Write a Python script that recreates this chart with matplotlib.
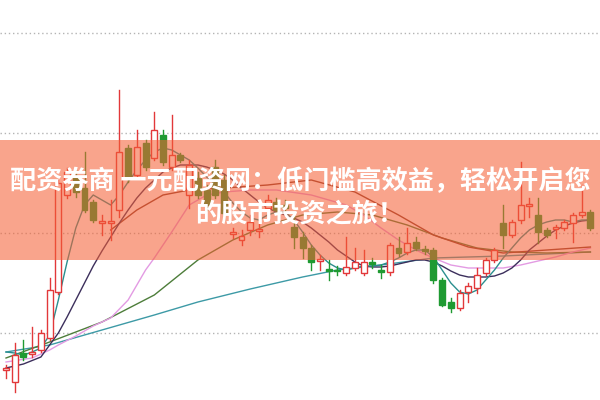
import matplotlib
matplotlib.use('Agg')
import matplotlib.pyplot as plt
from matplotlib.patches import Rectangle

# ---- candle data (price units) ----
opens  = [6.3, 5.1, 8.0, 7.9, 8.3, 9.5, 14.1, 23.8, 25.5, 24.5, 23.1, 21.0, 21.0, 22.3, 28.5, 25.8, 29.0, 27.5, 29.8, 26.6,
          27.8, 23.8, 25.5, 24.3, 26.6, 25.3, 19.9, 19.3, 20.3, 20.2, 22.5, 23.1, 22.8, 20.6, 19.6, 18.5, 17.2, 16.4, 16.3, 16.0,
          16.5, 16.0, 17.1, 16.3, 16.1, 18.5, 18.1, 19.1, 18.4, 18.3, 15.3, 13.1, 12.5, 14.1, 14.5, 16.0, 17.3, 21.0, 19.8, 21.3,
          22.7, 21.8, 20.3, 20.4, 20.5, 21.0, 21.8, 22.1]
closes = [6.5, 7.8, 7.6, 8.1, 10.0, 14.3, 25.0, 26.1, 24.1, 22.3, 21.3, 21.2, 21.2, 28.1, 25.6, 28.6, 26.6, 30.3, 27.1, 27.8,
          27.3, 26.8, 23.8, 22.8, 23.8, 22.0, 20.1, 19.7, 21.1, 20.4, 23.3, 22.3, 22.5, 19.6, 18.5, 17.1, 17.4, 16.2, 16.2, 16.6,
          17.1, 17.1, 16.9, 16.1, 18.8, 18.0, 19.0, 18.5, 18.2, 15.3, 12.8, 12.5, 14.0, 14.7, 15.8, 17.3, 18.3, 19.8, 21.1, 22.8,
          22.9, 20.1, 19.8, 20.6, 21.1, 21.8, 22.1, 20.5]
highs  = [6.8, 9.0, 9.3, 10.6, 10.3, 15.5, 25.3, 26.5, 26.3, 28.1, 23.3, 21.8, 23.3, 34.3, 28.8, 30.3, 29.3, 32.1, 30.3, 31.8,
          28.0, 27.3, 26.1, 24.8, 27.3, 25.8, 20.5, 20.3, 21.8, 21.0, 23.8, 23.5, 23.3, 22.0, 20.1, 18.8, 17.8, 17.3, 16.7, 19.6,
          18.5, 18.3, 17.5, 16.8, 19.0, 19.6, 20.5, 19.6, 18.7, 18.5, 15.5, 13.5, 14.3, 15.0, 16.5, 17.5, 18.5, 22.8, 21.3, 27.1,
          23.5, 23.5, 20.5, 20.8, 21.3, 22.0, 24.8, 22.3]
lows   = [5.5, 4.1, 7.3, 7.6, 8.1, 9.3, 13.9, 23.5, 23.6, 22.1, 21.1, 19.8, 19.3, 21.6, 25.1, 25.6, 26.3, 27.3, 26.8, 26.3,
          27.1, 22.5, 23.5, 22.3, 23.5, 21.3, 19.5, 18.8, 19.8, 19.6, 22.1, 22.0, 22.1, 18.5, 17.5, 16.3, 16.3, 15.3, 15.8, 15.8,
          16.3, 15.8, 16.5, 15.5, 15.8, 17.7, 17.9, 18.3, 17.9, 15.0, 12.7, 12.1, 12.3, 13.1, 14.0, 15.8, 17.1, 18.5, 19.6, 21.0,
          21.6, 19.0, 19.6, 19.5, 20.3, 19.1, 21.6, 20.3]

# ---- moving average lines (index, value) ----
ma5_idx = list(range(68))
ma5_val = [8.1, 8.0, 7.8, 8.1, 8.5, 9.8, 13.3, 17.1, 20.5, 22.8, 23.8, 23.3, 22.8, 23.8, 25.1, 26.3, 27.3, 28.1, 28.5, 28.3,
           27.8, 27.3, 26.5, 25.6, 25.0, 24.1, 23.0, 22.1, 21.5, 21.3, 21.8, 22.1, 22.1, 21.3, 20.1, 18.8, 17.8, 17.0, 16.5, 16.3,
           16.5, 16.7, 16.7, 16.8, 17.1, 17.5, 18.0, 18.3, 18.3, 17.6, 16.3, 15.0, 14.1, 13.9, 14.3, 15.3, 16.3, 17.5, 18.5, 19.5,
           20.3, 20.8, 21.1, 21.3, 21.3, 21.1, 21.3, 21.3]
ma10_idx = [0, 2, 4, 5, 6, 7, 8, 9, 10, 11, 12, 13, 14, 15, 16, 17, 18, 19, 20, 21, 22, 23, 24, 25, 26, 27, 28, 29, 30, 31,
            32, 33, 34, 35, 36, 37, 38, 39, 40, 41, 42, 43, 44, 45, 46, 47, 48, 49, 50, 51, 52, 53, 54, 55, 56, 57, 58, 59,
            60, 61, 62, 63, 64, 65, 66, 67]
ma10_val = [6.5, 6.9, 7.6, 8.8, 10.0, 11.6, 13.3, 15.0, 16.7, 18.2, 19.6, 21.0, 22.3, 23.5, 24.5, 25.3, 26.1, 26.5, 26.8, 26.8,
            26.8, 26.6, 26.3, 25.9, 25.3, 24.5, 23.8, 23.1, 22.5, 22.1, 21.8, 21.5, 21.1, 20.5, 19.8, 19.1, 18.3, 17.7, 17.1,
            16.7, 16.6, 16.6, 16.7, 16.9, 17.1, 17.3, 17.3, 17.1, 16.7, 16.2, 15.8, 15.6, 15.6, 15.6, 15.7, 16.0, 16.5, 17.3,
            18.3, 19.0, 19.7, 20.3, 20.7, 21.0, 21.2, 21.3]
ma20_idx = [0, 3, 5, 6, 8, 10, 12, 14, 16, 17, 19, 21, 23, 25, 28, 31, 35, 39, 41, 43, 45, 47, 49, 51, 53, 55, 57, 59, 61,
            63, 65, 67]
ma20_val = [7.1, 7.5, 8.3, 8.8, 9.7, 10.7, 11.5, 13.3, 16.3, 17.5, 20.1, 22.8, 23.8, 24.1, 24.3, 24.3, 23.8, 22.8, 21.8,
            20.5, 19.3, 18.3, 17.5, 16.8, 16.5, 16.5, 16.5, 16.8, 17.2, 17.6, 18.1, 18.5]
ma30_idx = [0, 5, 11, 17, 22, 26, 30, 34, 38, 42, 46, 50, 54, 58, 62, 67]
ma30_val = [7.5, 9.1, 11.1, 13.8, 17.3, 19.3, 20.8, 21.8, 22.1, 21.8, 20.8, 19.5, 18.5, 18.1, 18.0, 18.1]
ma60_idx = [0, 5, 11, 17, 22, 28, 34, 38, 43, 49, 57, 67]
ma60_val = [8.1, 8.8, 10.3, 11.8, 13.1, 14.4, 15.6, 16.3, 16.8, 17.5, 17.7, 18.1]
ma120_idx = [12, 15, 18, 21, 25, 30, 35, 40, 45, 49, 53, 57, 62, 67]
ma120_val = [20.3, 22.3, 23.8, 24.3, 24.5, 24.8, 25.3, 24.1, 21.8, 19.8, 18.6, 18.0, 18.3, 18.6]

grid_levels = [40, 30, 20, 10]

title_line1 = "配资券商 一元配资网：低门槛高效益，轻松开启您"
title_line2 = "的股市投资之旅！"

UP = '#e2383a'
DOWN = '#1f9a32'

fig = plt.figure(figsize=(6, 4), dpi=100)
ax = fig.add_axes([0, 0, 1, 1])
ax.set_xlim(-0.69, 68.1)
ax.set_ylim(3.3, 43.3)
ax.axis('off')

for g in grid_levels:
    ax.axhline(g, color='#b4b4b4', lw=1.0, ls=(0, (1, 2)), zorder=1)

lines = [
    (ma60_idx, ma60_val, '#3d9aa6'),
    (ma30_idx, ma30_val, '#4d7d3a'),
    (ma20_idx, ma20_val, '#e39be3'),
    (ma120_idx, ma120_val, '#8a3d2d'),
    (ma10_idx, ma10_val, '#3c2f5c'),
    (ma5_idx, ma5_val, '#2b8f8f'),
]
for xs, ys, c in lines:
    ax.plot(xs, ys, color=c, lw=1.0, zorder=2)

w = 0.68
for i, (o, c, h, l) in enumerate(zip(opens, closes, highs, lows)):
    top, bot = max(o, c), min(o, c)
    if c >= o:
        col = UP
        ax.plot([i, i], [top, h], color=col, lw=1.0, zorder=3)
        ax.plot([i, i], [l, bot], color=col, lw=1.0, zorder=3)
        ax.add_patch(Rectangle((i - w / 2, bot), w, max(top - bot, 0.15), facecolor='white',
                               edgecolor=col, lw=1.0, zorder=3))
    else:
        col = DOWN
        ax.plot([i, i], [l, h], color=col, lw=1.0, zorder=3)
        ax.add_patch(Rectangle((i - w / 2, bot), w, max(top - bot, 0.15), facecolor=col,
                               edgecolor=col, lw=1.0, zorder=3))

# banner
fig.patches.append(Rectangle((0, 1 - 260 / 400), 1, 120 / 400, transform=fig.transFigure,
                             facecolor=(245 / 255, 96 / 255, 53 / 255), alpha=0.57, edgecolor='none', zorder=5))

fig.text(0.5, 1 - 182 / 400, title_line1, ha='center', va='center', color='white', fontsize=18.8,
         fontweight='bold', family=['Noto Sans CJK SC', 'DejaVu Sans'], zorder=6)
fig.text(0.5, 1 - 215 / 400, title_line2, ha='center', va='center', color='white', fontsize=18.8,
         fontweight='bold', family=['Noto Sans CJK SC', 'DejaVu Sans'], zorder=6)

fig.savefig('out.png', dpi=100)
